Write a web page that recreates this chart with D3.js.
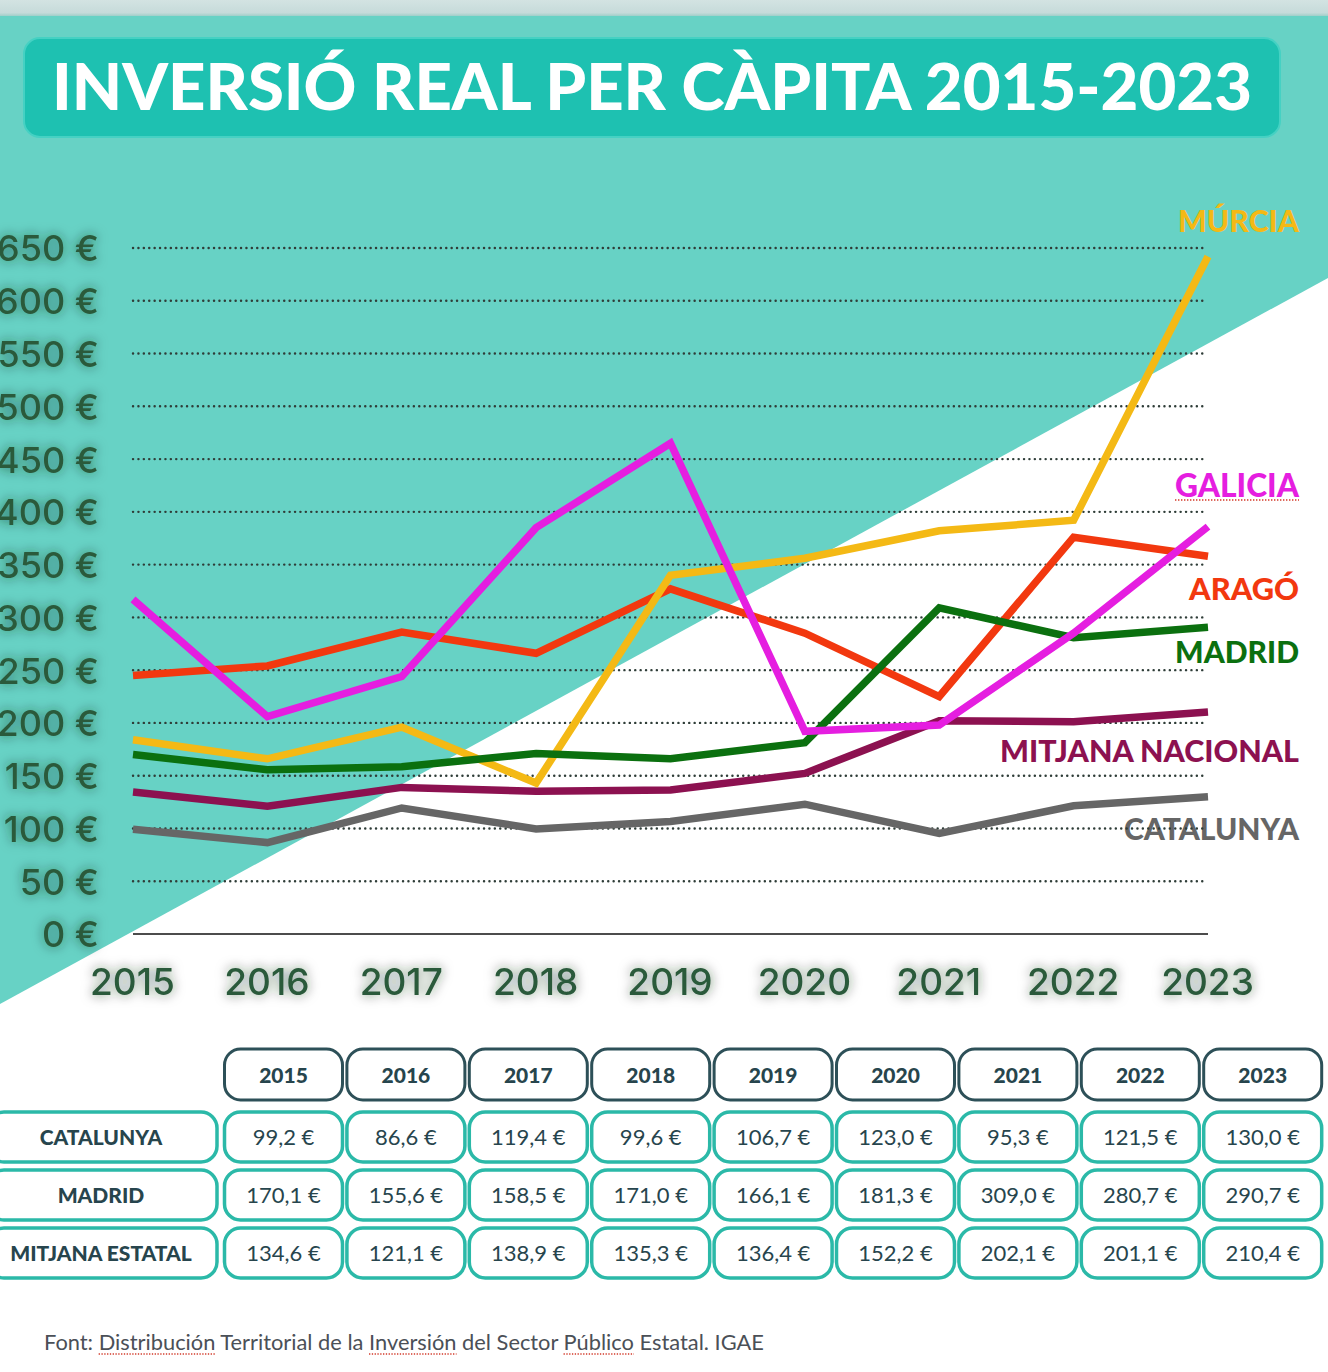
<!DOCTYPE html>
<html>
<head>
<meta charset="utf-8">
<script src="https://cdn.jsdelivr.net/npm/d3@7"></script>
<style>
    html, body { margin: 0; padding: 0; background: #fff; }
    svg { display: block; }
</style>
</head>
<body>
<div id="chart"></div>
<script>
// chart values
const years = [2015, 2016, 2017, 2018, 2019, 2020, 2021, 2022, 2023];
const catalunya = [99.2, 86.6, 119.4, 99.6, 106.7, 123.0, 95.3, 121.5, 130.0];
const madrid = [170.1, 155.6, 158.5, 171.0, 166.1, 181.3, 309.0, 280.7, 290.7];
const mitjana = [134.6, 121.1, 138.9, 135.3, 136.4, 152.2, 202.1, 201.1, 210.4];
const murcia = [184, 166, 196, 143, 340, 356, 382, 392, 642];
const galicia = [317, 206, 244, 385, 465, 192, 198, 285, 386];
const arago = [245, 254, 286, 266, 327, 285, 225, 376, 358];
const yTicks = [0, 50, 100, 150, 200, 250, 300, 350, 400, 450, 500, 550, 600, 650];

const title = 'INVERSIÓ REAL PER CÀPITA 2015-2023';
const source = 'Font: Distribución Territorial de la Inversión del Sector Público Estatal. IGAE';
const flaggedWords = ['Distribución', 'Inversión', 'Público'];

// series, drawn bottom to top
const series = [
    {key: 'catalunya', label: 'CATALUNYA', values: catalunya, color: '#666666'},
    {key: 'mitjana', label: 'MITJANA NACIONAL', values: mitjana, color: '#8c1150'},
    {key: 'arago', label: 'ARAGÓ', values: arago, color: '#f2380f'},
    {key: 'murcia', label: 'MÚRCIA', values: murcia, color: '#f4b915'},
    {key: 'madrid', label: 'MADRID', values: madrid, color: '#0b700f'},
    {key: 'galicia', label: 'GALICIA', values: galicia, color: '#e51ee0'}
];

const tableRows = [
    {label: 'CATALUNYA', values: catalunya},
    {label: 'MADRID', values: madrid},
    {label: 'MITJANA ESTATAL', values: mitjana}
];

// label layout (baseline y, target width)
const labelLayout = {
    murcia: {y: 232, w: 121},
    galicia: {y: 497, w: 124},
    arago: {y: 600, w: 110},
    madrid: {y: 663, w: 124},
    mitjana: {y: 762, w: 299},
    catalunya: {y: 840, w: 175}
};

const W = 1328, H = 1372;
const teal = '#67d2c5';
const axisGreen = '#2b5a3b';
const tableText = '#27454d';

const locale = d3.formatLocale({decimal: ',', thousands: '.', grouping: [3], currency: ['', ' €']});
const fmt = locale.format('.1f');

const svg = d3.select('#chart').append('svg')
    .attr('width', W)
    .attr('height', H);

const defs = svg.append('defs');

const glow = defs.append('filter')
    .attr('id', 'glow')
    .attr('x', '-40%').attr('y', '-60%')
    .attr('width', '180%').attr('height', '220%');
glow.append('feGaussianBlur').attr('in', 'SourceAlpha').attr('stdDeviation', 6).attr('result', 'b');
glow.append('feFlood').attr('flood-color', '#0a2a1a').attr('flood-opacity', 0.62);
glow.append('feComposite').attr('in2', 'b').attr('operator', 'in');
const merge = glow.append('feMerge');
merge.append('feMergeNode');
merge.append('feMergeNode').attr('in', 'SourceGraphic');

const bandGrad = defs.append('linearGradient')
    .attr('id', 'band').attr('x1', 0).attr('x2', 0).attr('y1', 0).attr('y2', 1);
bandGrad.append('stop').attr('offset', '0%').attr('stop-color', '#d3e3e2');
bandGrad.append('stop').attr('offset', '80%').attr('stop-color', '#c6dbda');
bandGrad.append('stop').attr('offset', '100%').attr('stop-color', '#9fcfc9');

// background
svg.append('rect').attr('width', W).attr('height', H).attr('fill', '#fff');
svg.append('polygon')
    .attr('points', [[0, 15], [W, 15], [W, 278], [0, 1004]].map(p => p.join(',')).join(' '))
    .attr('fill', teal);
svg.append('rect').attr('width', W).attr('height', 16).attr('fill', 'url(#band)');

// title
svg.append('rect')
    .attr('x', 24).attr('y', 38)
    .attr('width', 1256).attr('height', 99)
    .attr('rx', 16)
    .attr('fill', '#1ec1b1')
    .attr('stroke', '#45d1c3')
    .attr('stroke-width', 2);

const titleText = svg.append('text')
    .attr('x', 652).attr('y', 110)
    .attr('text-anchor', 'middle')
    .attr('fill', '#fff')
    .style('font-family', 'Lato, sans-serif')
    .style('font-weight', 900)
    .style('font-size', '64px')
    .text(title);
const tw = titleText.node().getComputedTextLength();
titleText.style('font-size', `${64 * 1200 / tw}px`);

// scales
const x = d3.scaleLinear().domain([2015, 2023]).range([133, 1208]);
const y = d3.scaleLinear().domain([0, 650]).range([934, 248]);

// end labels (under the grid, like the original)
const labels = svg.append('g').attr('class', 'end-labels');
series.forEach(s => {
    const lay = labelLayout[s.key];
    const t = labels.append('text')
        .attr('x', 1299).attr('y', lay.y)
        .attr('text-anchor', 'end')
        .attr('fill', s.color)
        .style('font-family', 'Lato, sans-serif')
        .style('font-weight', 900)
        .style('font-size', '29px')
        .text(s.label);
    const w = t.node().getComputedTextLength();
    t.style('font-size', `${29 * lay.w / w}px`);
    if (s.key === 'galicia') {
        labels.append('line')
            .attr('x1', 1299 - lay.w).attr('x2', 1299)
            .attr('y1', lay.y + 3).attr('y2', lay.y + 3)
            .attr('stroke', '#d23a2a')
            .attr('stroke-width', 1.4)
            .attr('stroke-dasharray', '1.4,1.6');
    }
});

// grid
const grid = svg.append('g').attr('class', 'grid');
grid.selectAll('line')
    .data(yTicks.filter(d => d > 0))
    .enter()
    .append('line')
    .attr('x1', x(2015)).attr('x2', x(2023) - 2)
    .attr('y1', d => y(d)).attr('y2', d => y(d))
    .attr('stroke', '#2f3d38')
    .attr('stroke-width', 2.4)
    .attr('stroke-linecap', 'round')
    .attr('stroke-dasharray', '0.1,5.3');

svg.append('line')
    .attr('x1', x(2015)).attr('x2', x(2023))
    .attr('y1', y(0)).attr('y2', y(0))
    .attr('stroke', '#111')
    .attr('stroke-width', 1.6);

// axes labels
const yAxis = d3.axisLeft(y).tickValues(yTicks).tickSize(0).tickFormat(d => `${d} €`);
const yG = svg.append('g')
    .attr('transform', 'translate(99,0)')
    .call(yAxis);
yG.select('.domain').remove();
yG.selectAll('text')
    .attr('x', 0)
    .attr('dy', '0.36em')
    .attr('fill', axisGreen)
    .attr('filter', 'url(#glow)')
    .style('font-family', 'Inter, sans-serif')
    .style('font-weight', 500)
    .style('font-size', '36px');

const xAxis = d3.axisBottom(x).tickValues(years).tickSize(0).tickFormat(d3.format('d'));
const xG = svg.append('g')
    .attr('transform', 'translate(-1,968)')
    .call(xAxis);
xG.select('.domain').remove();
xG.selectAll('text')
    .attr('y', 0)
    .attr('dy', '0.72em')
    .attr('fill', axisGreen)
    .attr('filter', 'url(#glow)')
    .style('font-family', 'Inter, sans-serif')
    .style('font-weight', 500)
    .style('font-size', '37px');

// lines
const line = d3.line()
    .x((d, i) => x(years[i]))
    .y(d => y(d));

svg.append('g').attr('class', 'lines')
    .selectAll('path')
    .data(series)
    .enter()
    .append('path')
    .attr('d', d => line(d.values))
    .attr('fill', 'none')
    .attr('stroke', d => d.color)
    .attr('stroke-width', 7.5)
    .attr('stroke-linejoin', 'miter')
    .attr('stroke-linecap', 'butt');

// table
const colX = d3.scalePoint().domain(years).range([283.5, 1262.7]);
const boxW = 118;
const table = svg.append('g').attr('class', 'table');

const head = table.selectAll('.head')
    .data(years)
    .enter()
    .append('g')
    .classed('head', true)
    .attr('transform', d => `translate(${colX(d)},1049)`);
head.append('rect')
    .attr('x', -boxW / 2).attr('y', 0)
    .attr('width', boxW).attr('height', 51)
    .attr('rx', 16)
    .attr('fill', '#fff')
    .attr('stroke', '#2d5058')
    .attr('stroke-width', 3);
head.append('text')
    .attr('y', 26)
    .attr('dy', '0.36em')
    .attr('text-anchor', 'middle')
    .attr('fill', tableText)
    .style('font-family', 'Lato, sans-serif')
    .style('font-weight', 900)
    .style('font-size', '21px')
    .text(d => d);

const rows = table.selectAll('.row')
    .data(tableRows)
    .enter()
    .append('g')
    .classed('row', true)
    .attr('transform', (d, i) => `translate(0,${1112 + i * 58})`);

rows.append('rect')
    .attr('x', -12).attr('y', 0)
    .attr('width', 229).attr('height', 50)
    .attr('rx', 16)
    .attr('fill', '#fff')
    .attr('stroke', '#2bb9a8')
    .attr('stroke-width', 3.5);
rows.append('text')
    .attr('x', 101).attr('y', 25)
    .attr('dy', '0.36em')
    .attr('text-anchor', 'middle')
    .attr('fill', tableText)
    .style('font-family', 'Lato, sans-serif')
    .style('font-weight', 900)
    .style('font-size', '21px')
    .text(d => d.label);

const cells = rows.selectAll('.cell')
    .data(d => d.values.map((v, i) => ({year: years[i], value: v})))
    .enter()
    .append('g')
    .classed('cell', true)
    .attr('transform', d => `translate(${colX(d.year)},0)`);
cells.append('rect')
    .attr('x', -boxW / 2).attr('y', 0)
    .attr('width', boxW).attr('height', 50)
    .attr('rx', 16)
    .attr('fill', '#fff')
    .attr('stroke', '#2bb9a8')
    .attr('stroke-width', 3.5);
cells.append('text')
    .attr('y', 25)
    .attr('dy', '0.36em')
    .attr('text-anchor', 'middle')
    .attr('fill', tableText)
    .style('font-family', 'Lato, sans-serif')
    .style('font-weight', 400)
    .style('font-size', '22px')
    .text(d => `${fmt(d.value)} €`);

// source
const src = svg.append('text')
    .attr('x', 44).attr('y', 1350)
    .attr('fill', '#4b5057')
    .style('font-family', 'Lato, sans-serif')
    .style('font-size', '20px')
    .text(source);
const sw = src.node().getComputedTextLength();
src.style('font-size', `${20 * 720 / sw}px`);

flaggedWords.forEach(word => {
    const idx = source.indexOf(word);
    const node = src.node();
    const x0 = node.getStartPositionOfChar(idx).x;
    const x1 = node.getEndPositionOfChar(idx + word.length - 1).x;
    svg.append('line')
        .attr('x1', x0).attr('x2', x1)
        .attr('y1', 1354).attr('y2', 1354)
        .attr('stroke', '#d23a2a')
        .attr('stroke-width', 1.3)
        .attr('stroke-dasharray', '1.3,1.5');
});
</script>
</body>
</html>
